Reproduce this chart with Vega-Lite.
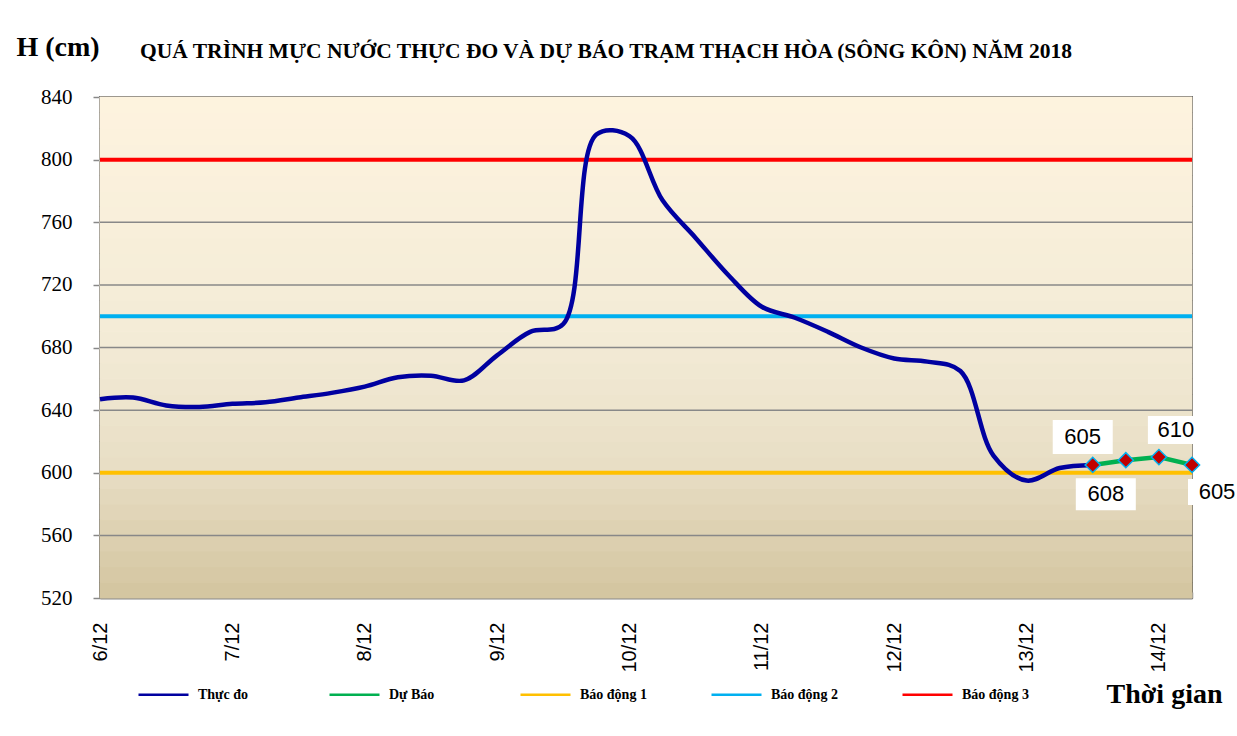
{
  "$schema": "https://vega.github.io/schema/vega-lite/v6.json",
  "width": 1092,
  "height": 501,
  "autosize": {"type": "none"},
  "padding": {"left": 100, "top": 97, "right": 45, "bottom": 138},
  "background": "white",
  "title": {
    "text": "QUÁ TRÌNH MỰC NƯỚC THỰC ĐO VÀ DỰ BÁO TRẠM THẠCH HÒA (SÔNG KÔN) NĂM 2018",
    "anchor": "start",
    "frame": "group",
    "dx": 40,
    "offset": -46,
    "baseline": "alphabetic",
    "font": "Liberation Serif",
    "fontSize": 21.5,
    "fontWeight": "bold",
    "color": "black"
  },
  "config": {
    "view": {"stroke": "#000000", "strokeWidth": 1.5},
    "legend": {
      "orient": "none",
      "legendX": 37,
      "legendY": 571,
      "direction": "horizontal",
      "columns": 5,
      "gridAlign": "all",
      "columnPadding": 59,
      "padding": 0,
      "symbolType": "stroke",
      "symbolSize": 2500,
      "symbolStrokeWidth": 2.5,
      "labelOffset": 8,
      "labelFont": "Liberation Serif",
      "labelFontSize": 14,
      "labelFontWeight": "bold",
      "labelColor": "black"
    }
  },
  "datasets": {
    "obs": [
      {"t": "2018-12-06T00:00", "v": 647, "s": "Thực đo"},
      {"t": "2018-12-06T06:00", "v": 648, "s": "Thực đo"},
      {"t": "2018-12-06T12:00", "v": 643, "s": "Thực đo"},
      {"t": "2018-12-06T18:00", "v": 642, "s": "Thực đo"},
      {"t": "2018-12-07T00:00", "v": 644, "s": "Thực đo"},
      {"t": "2018-12-07T06:00", "v": 645, "s": "Thực đo"},
      {"t": "2018-12-07T12:00", "v": 648, "s": "Thực đo"},
      {"t": "2018-12-07T18:00", "v": 651, "s": "Thực đo"},
      {"t": "2018-12-08T00:00", "v": 655, "s": "Thực đo"},
      {"t": "2018-12-08T06:00", "v": 661, "s": "Thực đo"},
      {"t": "2018-12-08T12:00", "v": 662, "s": "Thực đo"},
      {"t": "2018-12-08T18:00", "v": 659, "s": "Thực đo"},
      {"t": "2018-12-09T00:00", "v": 675, "s": "Thực đo"},
      {"t": "2018-12-09T06:00", "v": 690, "s": "Thực đo"},
      {"t": "2018-12-09T12:00", "v": 695, "s": "Thực đo"},
      {"t": "2018-12-09T18:00", "v": 816, "s": "Thực đo"},
      {"t": "2018-12-10T00:00", "v": 815, "s": "Thực đo"},
      {"t": "2018-12-10T06:00", "v": 774, "s": "Thực đo"},
      {"t": "2018-12-10T12:00", "v": 750, "s": "Thực đo"},
      {"t": "2018-12-10T18:00", "v": 726, "s": "Thực đo"},
      {"t": "2018-12-11T00:00", "v": 706, "s": "Thực đo"},
      {"t": "2018-12-11T06:00", "v": 699, "s": "Thực đo"},
      {"t": "2018-12-11T12:00", "v": 690, "s": "Thực đo"},
      {"t": "2018-12-11T18:00", "v": 680, "s": "Thực đo"},
      {"t": "2018-12-12T00:00", "v": 673, "s": "Thực đo"},
      {"t": "2018-12-12T06:00", "v": 671, "s": "Thực đo"},
      {"t": "2018-12-12T12:00", "v": 665, "s": "Thực đo"},
      {"t": "2018-12-12T18:00", "v": 611, "s": "Thực đo"},
      {"t": "2018-12-13T00:00", "v": 595, "s": "Thực đo"},
      {"t": "2018-12-13T06:00", "v": 603, "s": "Thực đo"},
      {"t": "2018-12-13T12:00", "v": 605, "s": "Thực đo"}
    ],
    "fc": [
      {"t": "2018-12-13T12:00", "v": 605, "s": "Dự Báo"},
      {"t": "2018-12-13T18:00", "v": 608, "s": "Dự Báo"},
      {"t": "2018-12-14T00:00", "v": 610, "s": "Dự Báo"},
      {"t": "2018-12-14T06:00", "v": 605, "s": "Dự Báo"}
    ],
    "alarm": [
      {"s": "Báo động 1", "v": 600},
      {"s": "Báo động 2", "v": 700},
      {"s": "Báo động 3", "v": 800}
    ],
    "grid": [
      {"g": 560}, {"g": 600}, {"g": 640}, {"g": 680}, {"g": 720}, {"g": 760}, {"g": 800}
    ],
    "bands": [
      {"lo": 520, "hi": 530}, {"lo": 530, "hi": 540}, {"lo": 540, "hi": 550}, {"lo": 550, "hi": 560},
      {"lo": 560, "hi": 570}, {"lo": 570, "hi": 580}, {"lo": 580, "hi": 590}, {"lo": 590, "hi": 600},
      {"lo": 600, "hi": 610}, {"lo": 610, "hi": 620}, {"lo": 620, "hi": 630}, {"lo": 630, "hi": 640},
      {"lo": 640, "hi": 650}, {"lo": 650, "hi": 660}, {"lo": 660, "hi": 670}, {"lo": 670, "hi": 680},
      {"lo": 680, "hi": 690}, {"lo": 690, "hi": 700}, {"lo": 700, "hi": 710}, {"lo": 710, "hi": 720},
      {"lo": 720, "hi": 730}, {"lo": 730, "hi": 740}, {"lo": 740, "hi": 750}, {"lo": 750, "hi": 760},
      {"lo": 760, "hi": 770}, {"lo": 770, "hi": 780}, {"lo": 780, "hi": 790}, {"lo": 790, "hi": 800},
      {"lo": 800, "hi": 810}, {"lo": 810, "hi": 820}, {"lo": 820, "hi": 830}, {"lo": 830, "hi": 840}
    ]
  },
  "layer": [
    {
      "data": {"name": "bands"},
      "mark": {"type": "rect", "strokeWidth": 1, "opacity": 1},
      "encoding": {
        "y": {"field": "lo", "type": "quantitative"},
        "y2": {"field": "hi"},
        "fill": {"field": "lo", "type": "quantitative", "legend": null,
          "scale": {"domain": [520, 600, 680, 840], "range": ["#D4C6A1", "#E8DEC5", "#F3EBD6", "#FEF3DF"], "interpolate": "rgb"}},
        "stroke": {"field": "lo", "type": "quantitative", "legend": null,
          "scale": {"domain": [520, 600, 680, 840], "range": ["#D4C6A1", "#E8DEC5", "#F3EBD6", "#FEF3DF"], "interpolate": "rgb"}}
      }
    },
    {
      "data": {"name": "grid"},
      "mark": {"type": "rule", "color": "#888888", "strokeWidth": 1.5},
      "encoding": {"y": {"field": "g", "type": "quantitative"}}
    },
    {
      "data": {"name": "alarm"},
      "mark": {"type": "rule", "strokeWidth": 4},
      "encoding": {
        "y": {"field": "v", "type": "quantitative", "scale": {"domain": [520, 840], "nice": false, "zero": false},
          "axis": {
            "title": "H (cm)",
            "values": [520, 560, 600, 640, 680, 720, 760, 800, 840],
            "grid": false,
            "domainColor": "#888888",
            "domainWidth": 2,
            "tickColor": "#888888",
            "tickWidth": 1.5,
            "tickSize": 7,
            "labelPadding": 21,
            "labelFont": "Liberation Serif",
            "labelFontSize": 21,
            "labelColor": "black",
            "titleAngle": 0,
            "titleAlign": "left",
            "titleBaseline": "alphabetic",
            "titleX": -84,
            "titleY": -42,
            "titleFont": "Liberation Serif",
            "titleFontSize": 28,
            "titleFontWeight": "bold",
            "titleColor": "black"
          }
        },
        "color": {"field": "s", "type": "nominal",
          "scale": {"domain": ["Thực đo", "Dự Báo", "Báo động 1", "Báo động 2", "Báo động 3"],
                    "range": ["#0000A0", "#00B050", "#FFC000", "#00B0F0", "#FF0000"]},
          "legend": {"title": null}
        }
      }
    },
    {
      "data": {"name": "obs"},
      "mark": {"type": "line", "interpolate": "catmull-rom", "strokeWidth": 4.5},
      "encoding": {
        "x": {"field": "t", "type": "temporal",
          "scale": {"domain": [{"year": 2018, "month": 12, "date": 6, "hours": 0}, {"year": 2018, "month": 12, "date": 14, "hours": 6}], "nice": false},
          "axis": {
            "title": "Thời gian",
            "tickCount": 33,
            "labelExpr": "hours(datum.value) == 0 ? timeFormat(datum.value, '%-d/%m') : ''",
            "labelAngle": -90,
            "labelOverlap": false,
            "labelBound": false,
            "labelFlush": false,
            "grid": false,
            "domainColor": "#888888",
            "domainWidth": 2,
            "tickColor": "#888888",
            "tickWidth": 1.5,
            "tickSize": -6,
            "labelPadding": 30,
            "labelFont": "Liberation Sans",
            "labelFontSize": 20,
            "labelColor": "black",
            "titleAlign": "right",
            "titleBaseline": "alphabetic",
            "titleX": 1122,
            "titleY": 104,
            "titleFont": "Liberation Serif",
            "titleFontSize": 28,
            "titleFontWeight": "bold",
            "titleColor": "black"
          }
        },
        "y": {"field": "v", "type": "quantitative"},
        "color": {"field": "s", "type": "nominal"}
      }
    },
    {
      "data": {"name": "fc"},
      "mark": {"type": "line", "strokeWidth": 4.5},
      "encoding": {
        "x": {"field": "t", "type": "temporal"},
        "y": {"field": "v", "type": "quantitative"},
        "color": {"field": "s", "type": "nominal"}
      }
    },
    {
      "data": {"name": "fc"},
      "mark": {"type": "point", "shape": "diamond", "filled": true, "fill": "#C00000", "stroke": "#00B0F0", "strokeWidth": 1.5, "size": 230, "opacity": 1},
      "encoding": {
        "x": {"field": "t", "type": "temporal"},
        "y": {"field": "v", "type": "quantitative"}
      }
    },
    {
      "data": {"name": "fc"},
      "transform": [{"filter": "hours(datum.t) == 12"}],
      "mark": {"type": "point", "shape": "M-1.333,-1.5L0.667,-1.5L0.667,-0.367L-1.333,-0.367Z", "size": 3600, "filled": true, "fill": "white", "strokeWidth": 0, "opacity": 1},
      "encoding": {"x": {"field": "t", "type": "temporal"}, "y": {"field": "v", "type": "quantitative"}}
    },
    {
      "data": {"name": "fc"},
      "transform": [{"filter": "hours(datum.t) == 18"}],
      "mark": {"type": "point", "shape": "M-1.667,0.6L0.333,0.6L0.333,1.667L-1.667,1.667Z", "size": 3600, "filled": true, "fill": "white", "strokeWidth": 0, "opacity": 1},
      "encoding": {"x": {"field": "t", "type": "temporal"}, "y": {"field": "v", "type": "quantitative"}}
    },
    {
      "data": {"name": "fc"},
      "transform": [{"filter": "hours(datum.t) == 0"}],
      "mark": {"type": "point", "shape": "M-0.367,-1.367L1.5,-1.367L1.5,-0.433L-0.367,-0.433Z", "size": 3600, "filled": true, "fill": "white", "strokeWidth": 0, "opacity": 1},
      "encoding": {"x": {"field": "t", "type": "temporal"}, "y": {"field": "v", "type": "quantitative"}}
    },
    {
      "data": {"name": "fc"},
      "transform": [{"filter": "hours(datum.t) == 6"}],
      "mark": {"type": "point", "shape": "M-0.133,0.467L1.8,0.467L1.8,1.333L-0.133,1.333Z", "size": 3600, "filled": true, "fill": "white", "strokeWidth": 0, "opacity": 1},
      "encoding": {"x": {"field": "t", "type": "temporal"}, "y": {"field": "v", "type": "quantitative"}}
    },
    {
      "data": {"name": "fc"},
      "transform": [{"filter": "hours(datum.t) == 12"}],
      "mark": {"type": "text", "font": "Liberation Sans", "fontSize": 22, "color": "black", "align": "center", "baseline": "middle", "dx": -10, "dy": -28},
      "encoding": {"x": {"field": "t", "type": "temporal"}, "y": {"field": "v", "type": "quantitative"}, "text": {"field": "v", "type": "quantitative"}}
    },
    {
      "data": {"name": "fc"},
      "transform": [{"filter": "hours(datum.t) == 18"}],
      "mark": {"type": "text", "font": "Liberation Sans", "fontSize": 22, "color": "black", "align": "center", "baseline": "middle", "dx": -20, "dy": 34},
      "encoding": {"x": {"field": "t", "type": "temporal"}, "y": {"field": "v", "type": "quantitative"}, "text": {"field": "v", "type": "quantitative"}}
    },
    {
      "data": {"name": "fc"},
      "transform": [{"filter": "hours(datum.t) == 0"}],
      "mark": {"type": "text", "font": "Liberation Sans", "fontSize": 22, "color": "black", "align": "center", "baseline": "middle", "dx": 17, "dy": -27},
      "encoding": {"x": {"field": "t", "type": "temporal"}, "y": {"field": "v", "type": "quantitative"}, "text": {"field": "v", "type": "quantitative"}}
    },
    {
      "data": {"name": "fc"},
      "transform": [{"filter": "hours(datum.t) == 6"}],
      "mark": {"type": "text", "font": "Liberation Sans", "fontSize": 22, "color": "black", "align": "center", "baseline": "middle", "dx": 25, "dy": 27},
      "encoding": {"x": {"field": "t", "type": "temporal"}, "y": {"field": "v", "type": "quantitative"}, "text": {"field": "v", "type": "quantitative"}}
    }
  ]
}
